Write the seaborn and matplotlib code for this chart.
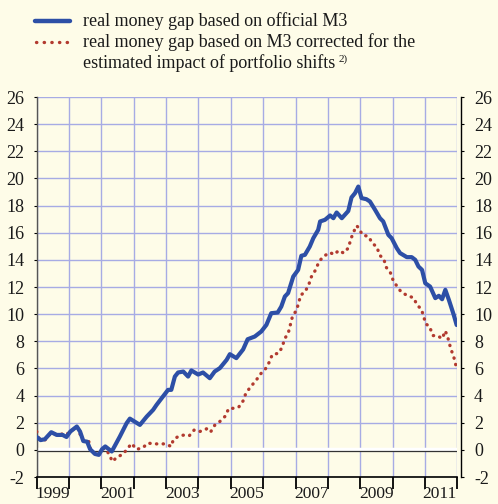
import numpy as np
import pandas as pd
import seaborn as sns
import matplotlib.pyplot as plt
from matplotlib.lines import Line2D
from matplotlib.ticker import MultipleLocator, FixedLocator, FixedFormatter

# real money gap based on official M3 (time in fractional years)
official_t = [1999.00, 1999.12, 1999.25, 1999.45, 1999.62, 1999.80, 1999.92, 2000.04, 2000.24, 2000.34,
              2000.44, 2000.56, 2000.65, 2000.80, 2000.92, 2001.02, 2001.12, 2001.32, 2001.57, 2001.78,
              2001.88, 2002.19, 2002.40, 2002.60, 2002.70, 2002.86, 2003.06, 2003.16, 2003.27, 2003.37,
              2003.53, 2003.68, 2003.78, 2003.99, 2004.14, 2004.35, 2004.50, 2004.66, 2004.87, 2004.97,
              2005.17, 2005.38, 2005.52, 2005.74, 2005.94, 2006.10, 2006.25, 2006.45, 2006.56, 2006.67,
              2006.77, 2006.93, 2007.08, 2007.18, 2007.29, 2007.44, 2007.55, 2007.70, 2007.76, 2007.91,
              2008.07, 2008.17, 2008.27, 2008.43, 2008.63, 2008.73, 2008.84, 2008.94, 2009.04, 2009.19,
              2009.30, 2009.46, 2009.61, 2009.71, 2009.87, 2009.97, 2010.13, 2010.23, 2010.44, 2010.59,
              2010.70, 2010.80, 2010.91, 2011.01, 2011.16, 2011.32, 2011.43, 2011.53, 2011.63, 2011.74,
              2011.89, 2011.98]
official_v = [0.95, 0.72, 0.78, 1.30, 1.10, 1.10, 0.95, 1.35, 1.72, 1.35,
              0.65, 0.60, 0.05, -0.30, -0.37, 0.05, 0.25, -0.12, 0.98, 1.97,
              2.30, 1.84, 2.45, 2.95, 3.30, 3.80, 4.42, 4.42, 5.40, 5.70,
              5.77, 5.40, 5.85, 5.55, 5.70, 5.28, 5.77, 6.02, 6.63, 7.05,
              6.76, 7.40, 8.15, 8.35, 8.72, 9.21, 10.07, 10.12, 10.56, 11.30,
              11.55, 12.77, 13.26, 14.30, 14.37, 14.98, 15.60, 16.21, 16.83, 16.95,
              17.27, 17.07, 17.49, 17.07, 17.60, 18.60, 18.92, 19.40, 18.55, 18.47,
              18.30, 17.68, 17.07, 16.83, 15.84, 15.60, 14.86, 14.50, 14.20, 14.20,
              14.00, 13.51, 13.26, 12.28, 12.03, 11.18, 11.35, 11.10, 11.79, 11.05,
              9.95, 9.20]

# real money gap based on M3 corrected for portfolio shifts
corrected_t = [1999.00, 1999.07, 1999.26, 1999.43, 1999.63, 1999.82, 1999.90, 2000.11, 2000.25, 2000.35,
               2000.46, 2000.61, 2000.67, 2000.80, 2000.91, 2000.98, 2001.11, 2001.23, 2001.34, 2001.50,
               2001.64, 2001.78, 2001.93, 2002.09, 2002.29, 2002.44, 2002.62, 2002.80, 2002.97, 2003.16,
               2003.22, 2003.40, 2003.58, 2003.72, 2003.87, 2004.04, 2004.25, 2004.37, 2004.51, 2004.66,
               2004.84, 2004.93, 2005.12, 2005.25, 2005.38, 2005.46, 2005.61, 2005.77, 2005.91, 2006.07,
               2006.20, 2006.28, 2006.48, 2006.59, 2006.66, 2006.78, 2006.84, 2006.90, 2007.02, 2007.10,
               2007.15, 2007.30, 2007.41, 2007.49, 2007.62, 2007.71, 2007.84, 2008.06, 2008.20, 2008.33,
               2008.49, 2008.64, 2008.70, 2008.79, 2008.89, 2008.98, 2009.06, 2009.26, 2009.37, 2009.52,
               2009.59, 2009.73, 2009.80, 2009.93, 2010.01, 2010.14, 2010.28, 2010.48, 2010.65, 2010.76,
               2010.89, 2010.96, 2011.03, 2011.13, 2011.25, 2011.37, 2011.54, 2011.62, 2011.69, 2011.75,
               2011.82, 2011.90, 2011.96]
corrected_v = [1.35, 0.86, 0.74, 1.23, 1.10, 1.18, 1.10, 1.47, 1.72, 1.10,
               0.61, 0.61, -0.05, -0.29, -0.37, 0.00, 0.12, -0.29, -0.86, -0.49,
               -0.37, 0.00, 0.47, 0.03, 0.18, 0.50, 0.44, 0.44, 0.44, 0.25,
               0.74, 1.03, 1.10, 1.05, 1.47, 1.35, 1.55, 1.30, 1.84, 2.09,
               2.51, 3.04, 3.07, 3.17, 3.61, 4.14, 4.65, 5.08, 5.57, 5.97,
               6.51, 7.02, 7.12, 7.59, 8.16, 8.65, 9.21, 9.78, 10.27, 10.81,
               11.37, 11.67, 12.18, 12.75, 13.26, 13.78, 14.22, 14.54, 14.39, 14.69,
               14.50, 14.90, 15.47, 16.03, 16.52, 16.26, 15.84, 15.72, 15.23, 14.94,
               14.37, 14.05, 13.46, 13.07, 12.53, 12.03, 11.59, 11.35, 11.20, 10.66,
               10.37, 9.82, 9.26, 9.14, 8.42, 8.42, 8.20, 8.77, 8.45, 7.86,
               7.32, 6.76, 6.19]

year_labels = ['1999', '2001', '2003', '2005', '2007', '2009', '2011']
label_line1 = 'real money gap based on official M3'
label_line2 = 'real money gap based on M3 corrected for the'
label_line3 = 'estimated impact of portfolio shifts'

df_off = pd.DataFrame({'t': official_t, 'v': official_v})
df_cor = pd.DataFrame({'t': corrected_t, 'v': corrected_v})

bg = '#FEFCE8'
grid_c = '#A7ABE4'
blue = '#2D4FA6'
red = '#B23A2F'

sns.set_style('white')
plt.rcParams['font.family'] = ['Liberation Serif', 'DejaVu Serif']
plt.rcParams['axes.unicode_minus'] = False

fig = plt.figure(figsize=(4.98, 5.04), dpi=100, facecolor=bg)
ax = fig.add_axes([36.7 / 498, 1 - 477 / 504, (457.3 - 36.7) / 498, (477 - 97) / 504])
ax.set_facecolor(bg)

ax.set_xlim(1999, 2012)
ax.set_ylim(-2, 26)

# grid
ax.xaxis.set_major_locator(MultipleLocator(1))
ax.yaxis.set_major_locator(MultipleLocator(2))
ax.grid(True, which='major', color=grid_c, linewidth=1.0)
ax.set_axisbelow(True)

# zero line
ax.axhline(0.08, color='white', linewidth=2.5, zorder=1.5)
ax.axhline(-0.06, color='#333333', linewidth=0.9, zorder=1.6)

sns.lineplot(x='t', y='v', data=df_cor, ax=ax, color=red, linewidth=2.4,
             linestyle=(0, (0.1, 1.9)), zorder=3)
ax.lines[-1].set_dash_capstyle('round')
sns.lineplot(x='t', y='v', data=df_off, ax=ax, color=blue, linewidth=3.0, zorder=4)

ax.set_xlabel('')
ax.set_ylabel('')

# spines
ax.spines['top'].set_visible(False)
ax.spines['left'].set_color('#555555')
ax.spines['left'].set_linewidth(1.0)
ax.spines['right'].set_color('black')
ax.spines['right'].set_linewidth(1.0)
ax.spines['right'].set_position(('outward', 3))
ax.spines['bottom'].set_color('black')
ax.spines['bottom'].set_linewidth(1.2)

# y ticks on both sides
ax.tick_params(axis='y', which='major', left=True, right=True, labelleft=True, labelright=True,
               length=2, width=0.8, color='black', labelsize=13, pad=7, labelcolor='#1a1a1a')

# x ticks: year boundaries as ticks, labels centred in odd years
ax.tick_params(axis='x', which='major', bottom=True, length=8.5, width=1.3, color='black',
               direction='out', labelbottom=False)
ax.xaxis.set_minor_locator(FixedLocator([1999.5, 2001.5, 2003.5, 2005.5, 2007.5, 2009.5, 2011.45]))
ax.xaxis.set_minor_formatter(FixedFormatter(year_labels))
ax.tick_params(axis='x', which='minor', length=0, labelsize=12.5, pad=6.5, labelcolor='#1a1a1a')

# legend drawn by hand
fig.add_artist(Line2D([35 / 498, 70 / 498], [1 - 21 / 504] * 2, color=blue, linewidth=3.2))
fig.add_artist(Line2D([36 / 498, 70 / 498], [1 - 42 / 504] * 2, color=red, linewidth=2.4,
                      linestyle=(0, (0.1, 2.2)), dash_capstyle='round'))
fig.text(83 / 498, 1 - 21 / 504, label_line1, fontsize=13, va='center', ha='left', color='#1a1a1a')
fig.text(83 / 498, 1 - 42 / 504, label_line2, fontsize=13, va='center', ha='left', color='#1a1a1a')
fig.text(83 / 498, 1 - 63 / 504, label_line3, fontsize=13, va='center', ha='left', color='#1a1a1a')
fig.text(339 / 498, 1 - 59 / 504, '2)', fontsize=8, va='center', ha='left', color='#1a1a1a')

fig.savefig('out.png', dpi=100, facecolor=bg)
